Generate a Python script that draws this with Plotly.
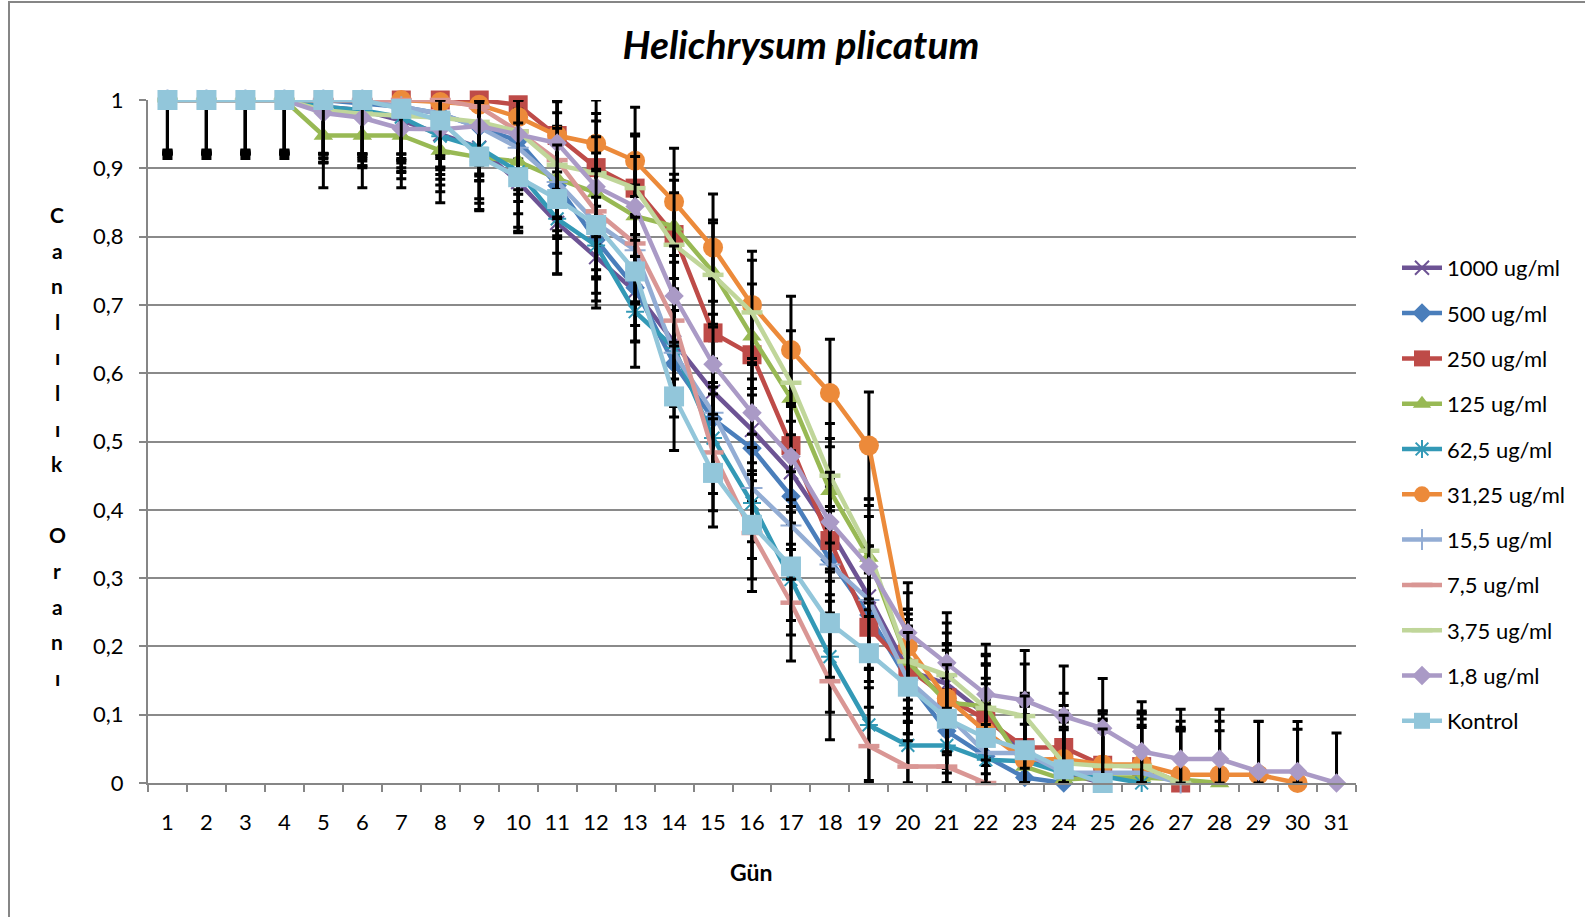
import numpy as np
import plotly.graph_objects as go

days = [str(d) for d in range(1, 32)]

names = ["1000 ug/ml", "500 ug/ml", "250 ug/ml", "125 ug/ml", "62,5 ug/ml", "31,25 ug/ml",
         "15,5 ug/ml", "7,5 ug/ml", "3,75 ug/ml", "1,8 ug/ml", "Kontrol"]

v1000 = [1, 1, 1, 1, 0.99, 0.985, 0.97, 0.95, 0.93, 0.88, 0.82, 0.77, 0.72, 0.645, 0.573, 0.517,
         0.455, 0.37, 0.273, 0.165, 0.145, 0.1, 0.04, 0.015, 0]
v500 = [1, 1, 1, 1, 1, 0.995, 0.99, 0.98, 0.96, 0.94, 0.875, 0.795, 0.725, 0.614, 0.533, 0.49,
        0.42, 0.327, 0.246, 0.15, 0.076, 0.039, 0.008, 0]
v250 = [1, 1, 1, 1, 1, 1, 1, 1, 1, 0.993, 0.948, 0.901, 0.871, 0.803, 0.659, 0.627, 0.494, 0.355,
        0.228, 0.168, 0.125, 0.093, 0.052, 0.052, 0.026, 0.024, 0]
v125 = [1, 1, 1, 1, 0.948, 0.948, 0.948, 0.926, 0.916, 0.91, 0.885, 0.864, 0.83, 0.815, 0.748,
        0.654, 0.563, 0.428, 0.33, 0.178, 0.118, 0.112, 0.024, 0.005, 0.008, 0.008, 0.005, 0]
v62 = [1, 1, 1, 1, 0.99, 0.985, 0.975, 0.947, 0.93, 0.895, 0.826, 0.787, 0.69, 0.637, 0.505, 0.41,
       0.298, 0.185, 0.085, 0.055, 0.055, 0.034, 0.032, 0.015, 0.01, 0]
v31 = [1, 1, 1, 1, 1, 1, 1, 0.997, 0.993, 0.975, 0.948, 0.936, 0.911, 0.851, 0.784, 0.70, 0.634,
       0.571, 0.494, 0.2, 0.124, 0.075, 0.034, 0.035, 0.027, 0.027, 0.012, 0.012, 0.012, 0]
v15 = [1, 1, 1, 1, 1, 1, 0.99, 0.98, 0.96, 0.93, 0.88, 0.82, 0.78, 0.63, 0.542, 0.432, 0.377, 0.32,
       0.268, 0.151, 0.1, 0.044, 0.044, 0.015, 0.015, 0.015, 0]
v7 = [1, 1, 1, 1, 1, 1, 1, 1, 0.99, 0.954, 0.912, 0.837, 0.79, 0.677, 0.484, 0.366, 0.264, 0.149,
      0.054, 0.024, 0.024, 0]
v3 = [1, 1, 1, 1, 0.985, 0.98, 0.977, 0.974, 0.968, 0.954, 0.905, 0.893, 0.871, 0.788, 0.744,
      0.689, 0.586, 0.45, 0.34, 0.178, 0.158, 0.11, 0.098, 0.029, 0.025, 0.025, 0]
v18 = [1, 1, 1, 1, 0.981, 0.974, 0.958, 0.957, 0.962, 0.95, 0.937, 0.873, 0.844, 0.713, 0.613,
       0.542, 0.478, 0.382, 0.317, 0.22, 0.176, 0.13, 0.121, 0.098, 0.08, 0.046, 0.035, 0.035,
       0.017, 0.017, 0]
vK = [1, 1, 1, 1, 1, 1, 0.987, 0.97, 0.917, 0.887, 0.855, 0.817, 0.749, 0.566, 0.454, 0.378,
      0.317, 0.234, 0.19, 0.141, 0.094, 0.066, 0.048, 0.02, 0.0]

values = [v1000, v500, v250, v125, v62, v31, v15, v7, v3, v18, vK]

colors = ["#6D5394", "#4A7EBB", "#BE4B48", "#98B954", "#3399B6", "#EC8A3A",
          "#93ADD4", "#D99694", "#C0D69A", "#AA9AC6", "#92C6DA"]
symbols = ["x-thin", "diamond", "square", "triangle-up", "asterisk", "circle",
           "cross-thin", "line-ew", "line-ew", "diamond", "square"]
msizes = [14, 15, 19, 17, 15, 20, 15, 15, 15, 15, 20]
mlines = [2, 0, 0, 0, 2, 0, 2, 4.5, 4.5, 0, 0]

FONT = "Lato"

# plot area in pixels
L, R, T, B = 148, 1356, 100, 783
W, H = 1585, 917


def px2x(px):
    return (px - L) / (R - L)


def px2y(py):
    return (B - py) / (B - T)


fig = go.Figure()
for name, vals, col, sym, ms, ml in zip(names, values, colors, symbols, msizes, mlines):
    y = np.array(vals, dtype=float)
    n = len(y)
    se = np.std(y, ddof=1) / np.sqrt(n)  # Excel "standard error" error bars
    plus = np.minimum(se, 1 - y)
    minus = np.minimum(se, y)
    fig.add_trace(go.Scatter(
        x=days[:n], y=y, name=name, legendgroup=name, mode="lines+markers",
        line=dict(color=col, width=4.5),
        marker=dict(symbol=sym, size=ms, color=col, line=dict(color=col, width=ml)),
        error_y=dict(type="data", array=plus, arrayminus=minus, symmetric=False,
                     color="#000000", thickness=3, width=5),
        cliponaxis=False,
    ))

fig.update_layout(
    width=W, height=H,
    margin=dict(l=L, r=W - R, t=T, b=H - B, pad=0),
    paper_bgcolor="white", plot_bgcolor="white",
    separators=", ",
    font=dict(family=FONT, size=22, color="#000000"),
    title=dict(text="<b><i>Helichrysum plicatum</i></b>", x=801 / W, xref="container",
               xanchor="center", y=1 - 45 / H, yref="container", yanchor="middle",
               font=dict(family=FONT, size=39, color="#000000")),
    showlegend=True,
    legend=dict(x=px2x(1397), xanchor="left", y=px2y(247), yanchor="top",
                font=dict(family=FONT, size=22, color="#000000"), itemwidth=40,
                tracegroupgap=13.7, bgcolor="rgba(0,0,0,0)", traceorder="grouped"),
)

fig.update_xaxes(
    type="category", categoryorder="array", categoryarray=days, range=[-0.5, 30.5],
    showgrid=False, showline=True, linecolor="#868686", linewidth=2,
    ticks="outside", tickson="boundaries", ticklen=7, tickcolor="#868686", tickwidth=1.5,
    tickfont=dict(family=FONT, size=22), ticklabelstandoff=19, zeroline=False,
)
fig.update_yaxes(
    range=[0, 1], dtick=0.1, tick0=0, showgrid=True, gridcolor="#8a8a8a", gridwidth=1.5,
    showline=True, linecolor="#868686", linewidth=2, ticks="outside", ticklen=7,
    tickcolor="#868686", tickwidth=1.5, tickfont=dict(family=FONT, size=22),
    ticklabelstandoff=11, zeroline=False,
)

# axis titles
fig.add_annotation(text="<b>Gün</b>", xref="paper", yref="paper", x=px2x(751), y=px2y(872),
                   showarrow=False, font=dict(family=FONT, size=23), xanchor="center",
                   yanchor="middle")
ytitle = ["C", "a", "n", "l", "ı", "l", "ı", "k", "", "O", "r", "a", "n", "ı"]
for i, ch in enumerate(ytitle):
    if ch:
        fig.add_annotation(text="<b>" + ch + "</b>", xref="paper", yref="paper",
                           x=px2x(57), y=px2y(214.5 + i * 35.6), showarrow=False,
                           font=dict(family=FONT, size=21), xanchor="center", yanchor="middle")

# chart border
fig.add_shape(type="rect", xref="paper", yref="paper", x0=px2x(9), y0=px2y(940),
              x1=px2x(1600), y1=px2y(2), line=dict(color="#868686", width=2), layer="below")

fig.write_html("out.html", post_script="document.body.style.margin='0';",
               config={"displayModeBar": False})
